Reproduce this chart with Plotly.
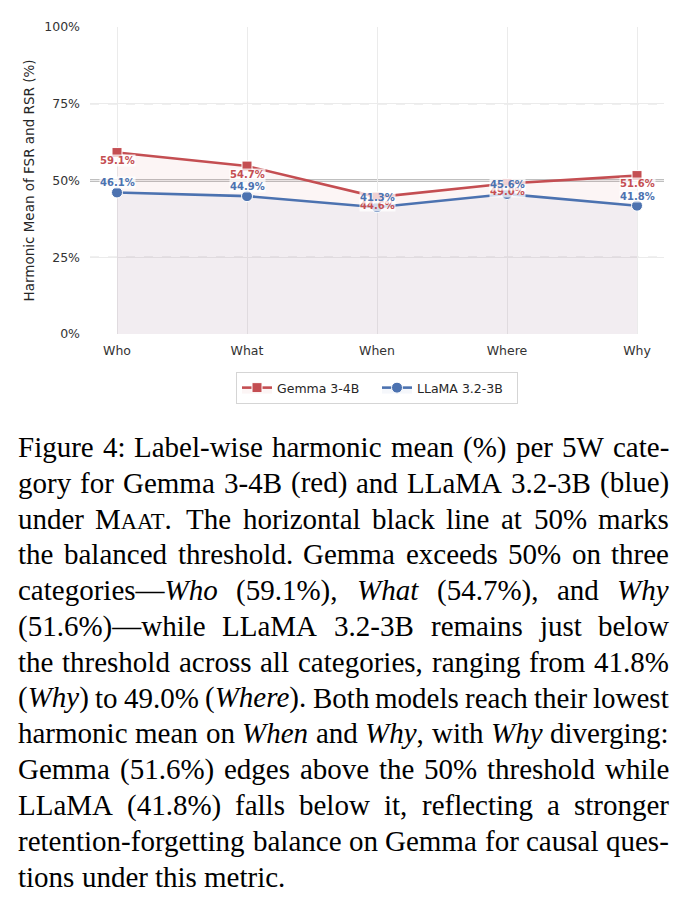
import plotly.graph_objects as go

# ---------------- data ----------------
categories = ["Who", "What", "When", "Where", "Why"]
gemma_values = [59.1, 54.7, 44.6, 49.0, 51.6]
llama_values = [46.1, 44.9, 41.3, 45.6, 41.8]
series_names = ["Gemma 3-4B", "LLaMA 3.2-3B"]
y_tick_values = [0, 25, 50, 75, 100]
y_tick_labels = ["0%", "25%", "50%", "75%", "100%"]
y_title = "Harmonic Mean of FSR and RSR (%)"

# caption lines: _x_ = italic, ^x^ = small caps
caption_lines = [
    "Figure 4: Label-wise harmonic mean (%) per 5W cate-",
    "gory for Gemma 3-4B (red) and LLaMA 3.2-3B (blue)",
    "under M^AAT^. The horizontal black line at 50% marks",
    "the balanced threshold. Gemma exceeds 50% on three",
    "categories—_Who_ (59.1%), _What_ (54.7%), and _Why_",
    "(51.6%)—while LLaMA 3.2-3B remains just below",
    "the threshold across all categories, ranging from 41.8%",
    "(_Why_) to 49.0% (_Where_). Both models reach their lowest",
    "harmonic mean on _When_ and _Why_, with _Why_ diverging:",
    "Gemma (51.6%) edges above the 50% threshold while",
    "LLaMA (41.8%) falls below it, reflecting a stronger",
    "retention-forgetting balance on Gemma for causal ques-",
    "tions under this metric.",
]

RED = "#c44e52"
BLUE = "#4c72b0"

W, H = 692, 911
PL, PR, PT, PB = 90, 664, 27, 334  # plot area in px

fig = go.Figure()

fig.add_trace(go.Scatter(
    x=categories, y=gemma_values, name=series_names[0], mode="lines+markers",
    line=dict(color=RED, width=2.6),
    marker=dict(symbol="square", size=10, color=RED, line=dict(color="white", width=1)),
    fill="tozeroy", fillcolor="rgba(196,78,82,0.06)",
))
fig.add_trace(go.Scatter(
    x=categories, y=llama_values, name=series_names[1], mode="lines+markers",
    line=dict(color=BLUE, width=2.6),
    marker=dict(symbol="circle", size=11, color=BLUE, line=dict(color="white", width=1)),
    fill="tozeroy", fillcolor="rgba(76,114,176,0.055)",
))

annotations = []
for c, v in zip(categories, gemma_values):
    annotations.append(dict(
        x=c, y=v, xref="x", yref="y", text=f"<b>{v:.1f}%</b>", showarrow=False,
        yshift=-8, font=dict(family="DejaVu Sans", size=10, color=RED),
        bgcolor="rgba(255,255,255,0.75)", borderpad=0,
    ))
for c, v in zip(categories, llama_values):
    annotations.append(dict(
        x=c, y=v, xref="x", yref="y", text=f"<b>{v:.1f}%</b>", showarrow=False,
        yshift=9.5, font=dict(family="DejaVu Sans", size=10, color=BLUE),
        bgcolor="rgba(255,255,255,0.75)", borderpad=0,
    ))

# ---------------- caption layout (justified, word by word) ----------------
ROMAN = {' ': 250, '!': 333, '%': 833, '(': 333, ')': 333, ',': 250, '-': 333, '.': 250,
         ':': 278, '—': 1000,
         'A': 722, 'B': 667, 'C': 667, 'D': 722, 'E': 611, 'F': 556, 'G': 722, 'H': 722,
         'I': 333, 'J': 389, 'K': 722, 'L': 611, 'M': 889, 'N': 722, 'O': 722, 'P': 556,
         'Q': 722, 'R': 667, 'S': 556, 'T': 611, 'U': 722, 'V': 722, 'W': 944, 'X': 722,
         'Y': 722, 'Z': 611,
         'a': 444, 'b': 500, 'c': 444, 'd': 500, 'e': 444, 'f': 333, 'g': 500, 'h': 500,
         'i': 278, 'j': 278, 'k': 500, 'l': 278, 'm': 778, 'n': 500, 'o': 500, 'p': 500,
         'q': 500, 'r': 333, 's': 389, 't': 278, 'u': 500, 'v': 500, 'w': 722, 'x': 500,
         'y': 500, 'z': 444}
for d in "0123456789":
    ROMAN[d] = 500
ITALIC = {'W': 833, 'h': 500, 'o': 500, 'a': 500, 't': 278, 'y': 444, 'e': 444, 'r': 389, 'n': 500}

CAP_FAMILY = "Liberation Serif, Times New Roman, Times, serif"
CAP_FS = 29.0
SC_FS = 22.5
TEXT_LEFT, TEXT_RIGHT = 18.0, 669.0
BASE0, LEAD = 457.0, 35.8


def parse(word):
    segs, style, buf = [], "r", ""
    for ch in word:
        if ch == "_":
            if buf:
                segs.append((buf, style))
            buf = ""
            style = "r" if style == "i" else "i"
        elif ch == "^":
            if buf:
                segs.append((buf, style))
            buf = ""
            style = "r" if style == "sc" else "sc"
        else:
            buf += ch
    if buf:
        segs.append((buf, style))
    return segs


def seg_width(segs):
    w = 0.0
    for t, s in segs:
        for ch in t:
            if s == "i":
                w += ITALIC.get(ch, ROMAN.get(ch, 500)) / 1000 * CAP_FS
            elif s == "sc":
                w += ROMAN.get(ch, 600) / 1000 * SC_FS
            else:
                w += ROMAN.get(ch, 500) / 1000 * CAP_FS
    return w


def seg_html(segs):
    out = ""
    for t, s in segs:
        if s == "i":
            out += f"<i>{t}</i>"
        elif s == "sc":
            out += f"<span style='font-size:{SC_FS}px'>{t}</span>"
        else:
            out += t
    return out


def px_to_paper_x(px):
    return (px - PL) / (PR - PL)


def px_to_paper_y(py):
    return (PB - py) / (PB - PT)


for i, line in enumerate(caption_lines):
    words = line.split(" ")
    parsed = [parse(w) for w in words]
    widths = [seg_width(p) for p in parsed]
    last = i == len(caption_lines) - 1
    if last or len(words) == 1:
        gap = ROMAN[' '] / 1000 * CAP_FS
    else:
        gap = (TEXT_RIGHT - TEXT_LEFT - sum(widths)) / (len(words) - 1)
    xpos = TEXT_LEFT
    yc = BASE0 + i * LEAD - 10
    for p, w in zip(parsed, widths):
        annotations.append(dict(
            x=px_to_paper_x(xpos), y=px_to_paper_y(yc), xref="paper", yref="paper",
            xanchor="left", yanchor="middle", text=seg_html(p), showarrow=False,
            font=dict(family=CAP_FAMILY, size=CAP_FS, color="black"),
            borderpad=0, borderwidth=0,
        ))
        xpos += w + gap

shapes = [
    dict(type="line", xref="paper", x0=0, x1=1, yref="y", y0=25, y1=25,
         line=dict(color="#b0b0b0", width=0.8, dash="dash"), layer="below"),
    dict(type="line", xref="paper", x0=0, x1=1, yref="y", y0=75, y1=75,
         line=dict(color="#b0b0b0", width=0.8, dash="dash"), layer="below"),
    dict(type="line", xref="paper", x0=0, x1=1, yref="y", y0=50, y1=50,
         line=dict(color="black", width=1.3), layer="below"),
]

fig.update_layout(
    width=W, height=H,
    margin=dict(l=PL, r=W - PR, t=PT, b=H - PB, autoexpand=False),
    paper_bgcolor="white", plot_bgcolor="white",
    font=dict(family="DejaVu Sans", size=12.5, color="#333333"),
    showlegend=True,
    legend=dict(orientation="h", x=0.5, xanchor="center",
                y=px_to_paper_y(372), yanchor="top",
                bgcolor="white", bordercolor="#d5d5d5", borderwidth=1,
                entrywidth=95, entrywidthmode="pixels",
                font=dict(family="DejaVu Sans", size=12.5, color="#262626")),
    annotations=annotations,
    shapes=shapes,
)
fig.update_xaxes(
    type="category", range=[-0.2077, 4.2077],
    showgrid=True, gridcolor="#ebebeb", gridwidth=1,
    zeroline=False, showline=False, ticks="",
    tickfont=dict(family="DejaVu Sans", size=12.5, color="#333333"),
    ticklabelstandoff=7,
)
fig.update_yaxes(
    range=[0, 100], tickvals=y_tick_values, ticktext=y_tick_labels,
    showgrid=True, gridcolor="#ebebeb", gridwidth=1,
    zeroline=False, showline=False, ticks="",
    tickfont=dict(family="DejaVu Sans", size=12.5, color="#333333"),
    ticklabelstandoff=9,
    title=dict(text=y_title, font=dict(family="DejaVu Sans", size=13.5, color="#262626"), standoff=6),
)

fig.write_html("out.html")
